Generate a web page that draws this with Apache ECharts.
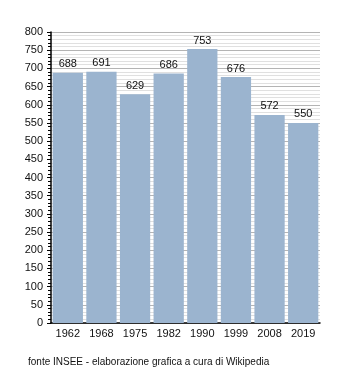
<!DOCTYPE html>
<html>
<head>
<meta charset="utf-8">
<script src="https://cdn.jsdelivr.net/npm/echarts@6/dist/echarts.min.js"></script>
<style>
  html, body { margin: 0; padding: 0; background: #fff; }
  #chart { width: 350px; height: 373px; }
</style>
</head>
<body>
<div id="chart"></div>
<script>
// Population by census year
const years = ['1962', '1968', '1975', '1982', '1990', '1999', '2008', '2019'];
const population = [688, 691, 629, 686, 753, 676, 572, 550];
const sourceNote = 'fonte INSEE - elaborazione grafica a cura di Wikipedia';

const chart = echarts.init(document.getElementById('chart'), null, { renderer: 'canvas' });
const font = 'Liberation Sans, Arial, sans-serif';

chart.setOption({
  animation: false,
  backgroundColor: '#ffffff',
  grid: { left: 51, right: 30, top: 32, bottom: 50 },
  graphic: [{
    type: 'text',
    left: 28,
    top: 357,
    style: { text: sourceNote, font: '10px ' + font, fill: '#111' }
  }],
  xAxis: {
    type: 'category',
    data: years,
    axisLine: { lineStyle: { color: '#000', width: 1.5 } },
    axisTick: { show: false },
    axisLabel: { color: '#111', fontFamily: font, fontSize: 11, margin: 5 }
  },
  yAxis: {
    type: 'value',
    min: 0,
    max: 800,
    interval: 50,
    axisLine: { show: true, lineStyle: { color: '#000', width: 1.5 } },
    axisTick: { show: true, length: 4, lineStyle: { color: '#000' } },
    minorTick: { show: true, splitNumber: 5, length: 3, lineStyle: { color: '#000' } },
    axisLabel: { color: '#111', fontFamily: font, fontSize: 11, margin: 8 },
    splitLine: { show: true, lineStyle: { color: '#b4b4b4', width: 1 } },
    minorSplitLine: { show: true, lineStyle: { color: '#e0e0e0', width: 1 } }
  },
  series: [{
    type: 'bar',
    data: population,
    barCategoryGap: '10%',
    itemStyle: { color: '#9bb4cf' },
    label: {
      show: true,
      position: 'top',
      distance: 3,
      color: '#111',
      fontFamily: font,
      fontSize: 11
    }
  }]
});
</script>
</body>
</html>
